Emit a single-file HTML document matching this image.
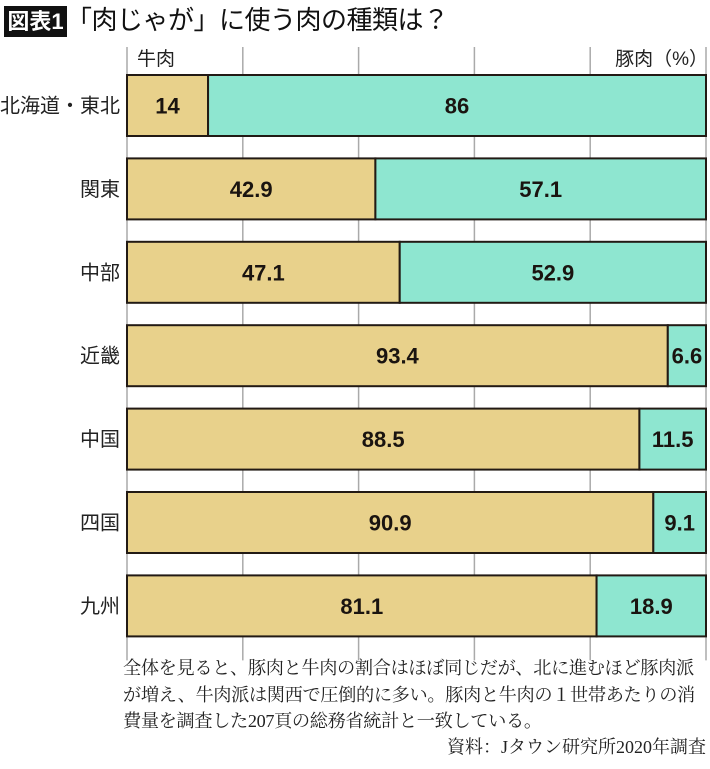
<!DOCTYPE html>
<html><head><meta charset="utf-8"><style>
body{margin:0;width:710px;height:769px;background:#fff;overflow:hidden;position:relative;font-family:"Liberation Sans","Noto Sans CJK JP",sans-serif;}
.abs{position:absolute;}
</style></head><body>
<div class="abs" style="left:4px;top:6px;width:63px;height:31px;background:#111;color:#fff;font-weight:bold;font-size:22px;line-height:31px;text-align:center;">図表1</div>
<div class="abs" style="left:66px;top:3px;font-size:26px;line-height:34px;color:#111;letter-spacing:-0.5px;">「肉じゃが」に使う肉の種類は？</div>
<svg class="abs" style="left:0;top:0" width="710" height="769" id="chart"></svg>
<div class="abs" style="left:123px;top:655px;white-space:nowrap;font-family:'Liberation Serif','Noto Serif CJK SC',serif;font-size:18.2px;letter-spacing:-0.35px;line-height:26.5px;color:#222;">全体を見ると、豚肉と牛肉の割合はほぼ同じだが、北に進むほど豚肉派<br>が増え、牛肉派は関西で圧倒的に多い。豚肉と牛肉の１世帯あたりの消<br>費量を調査した207頁の総務省統計と一致している。</div>
<div class="abs" style="right:4px;top:734px;font-family:'Liberation Serif','Noto Serif CJK SC',serif;font-size:18px;line-height:26px;color:#222;">資料：Jタウン研究所2020年調査</div>
<script>
const regions=["北海道・東北","関東","中部","近畿","中国","四国","九州"];
const beef=[14,42.9,47.1,93.4,88.5,90.9,81.1];
const pork=[86,57.1,52.9,6.6,11.5,9.1,18.9];
const ticks=[0,20,40,60,80,100];
const NS="http://www.w3.org/2000/svg";
const svg=document.getElementById('chart');
const x0=127,x1=706,top0=75,pitch=83.4,bh=61;
const xs=v=>x0+(x1-x0)*v/100;
const yb=i=>top0+i*pitch;
function mk(t,a){const e=document.createElementNS(NS,t);for(const k in a)e.setAttribute(k,a[k]);svg.appendChild(e);return e;}
ticks.forEach(t=>{
  const l=mk('line',{x1:xs(t),x2:xs(t),y1:47,y2:yb(regions.length-1)+bh+24,stroke:'#aaa','stroke-width':1.5});
  
  
});
const lb=mk('text',{x:137,y:65,'font-size':19,fill:'#222'});lb.textContent='牛肉';


const lp=mk('text',{x:708,y:65,'font-size':19,fill:'#222','text-anchor':'end'});lp.textContent='豚肉（%）';


regions.forEach((r,i)=>{
  const y=yb(i);
  const xm=xs(beef[i]);
  const a=mk('rect',{x:x0,y:y,width:xm-x0,height:bh,fill:'#e8d18b',stroke:'#221a14','stroke-width':2});
  
  
  const b=mk('rect',{x:xm,y:y,width:xs(beef[i]+pork[i])-xm,height:bh,fill:'#8ee6d0',stroke:'#221a14','stroke-width':2});
  
  
  const t1=mk('text',{x:(x0+xm)/2,y:y+bh/2+8,'font-size':22,'font-weight':'bold','text-anchor':'middle',fill:'#1a1410'});t1.textContent=beef[i];
  
  
  const t2=mk('text',{x:(xm+xs(beef[i]+pork[i]))/2,y:y+bh/2+8,'font-size':22,'font-weight':'bold','text-anchor':'middle',fill:'#1a1410'});t2.textContent=pork[i];
  
  
  const c=mk('text',{x:120,y:y+bh/2+7,'font-size':20,'text-anchor':'end',fill:'#222'});c.textContent=r;
  
  
});
</script>
</body></html>
